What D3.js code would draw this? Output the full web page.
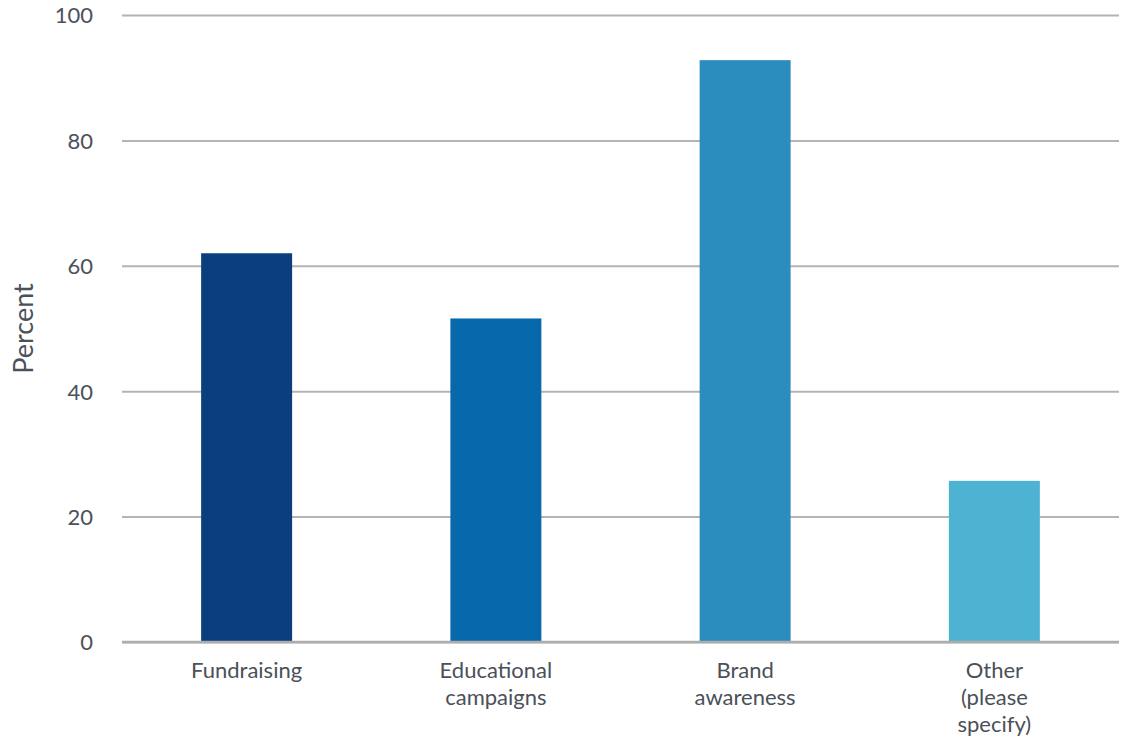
<!DOCTYPE html>
<html>
<head>
<meta charset="utf-8">
<script src="https://cdn.jsdelivr.net/npm/d3@7"></script>
<style>
  html, body { margin: 0; padding: 0; background: #fff; }
  svg { display: block; }
  text { font-family: "Lato", "Open Sans", sans-serif; fill: #4b5059; }
</style>
</head>
<body>
<svg id="chart" width="1126" height="738"></svg>
<script>
// Share of respondents by purpose (percent)
const categories = [
  ["Fundraising"],
  ["Educational", "campaigns"],
  ["Brand", "awareness"],
  ["Other", "(please", "specify)"]
];
const values = [62.0, 51.6, 92.8, 25.7];
const barColors = ["#0a3f7d", "#0868ac", "#2b8cbe", "#4eb3d3"];
const yTicks = [0, 20, 40, 60, 80, 100];
const yLabel = "Percent";

const svg = d3.select("#chart");
const margin = { top: 15, right: 7, bottom: 96, left: 122 };
const width = 1126 - margin.left - margin.right;
const height = 738 - margin.top - margin.bottom;

const g = svg.append("g").attr("transform", `translate(${margin.left},${margin.top})`);

const x = d3.scaleBand()
  .domain(d3.range(categories.length))
  .range([0, width])
  .paddingInner(0.635)
  .paddingOuter(0.3175);

const y = d3.scaleLinear().domain([0, 100]).range([height, 0]);

// Horizontal gridlines with tick labels
const yAxis = g.append("g")
  .call(d3.axisLeft(y).tickValues(yTicks).tickSize(-width).tickPadding(29))
  .call(a => a.select(".domain").remove());
yAxis.selectAll(".tick line")
  .attr("stroke", "#b4b4b4")
  .attr("stroke-width", 2);
yAxis.selectAll(".tick text")
  .attr("font-size", 22)
  .attr("dy", "0.36em");

// Bars
g.selectAll("rect.bar")
  .data(values)
  .join("rect")
  .attr("class", "bar")
  .attr("x", (d, i) => x(i))
  .attr("width", x.bandwidth())
  .attr("y", d => y(d))
  .attr("height", d => y(0) - y(d))
  .attr("fill", (d, i) => barColors[i]);

// Baseline
g.append("line")
  .attr("x1", 0).attr("x2", width)
  .attr("y1", y(0)).attr("y2", y(0))
  .attr("stroke", "#adadad")
  .attr("stroke-width", 2.5);

// Category labels (multi-line)
const xLabels = g.append("g").attr("transform", `translate(0,${height})`);
categories.forEach((lines, i) => {
  const t = xLabels.append("text")
    .attr("x", x(i) + x.bandwidth() / 2)
    .attr("y", 36)
    .attr("text-anchor", "middle")
    .attr("font-size", 22);
  lines.forEach((ln, k) => {
    t.append("tspan")
      .attr("x", x(i) + x.bandwidth() / 2)
      .attr("dy", k === 0 ? 0 : 27)
      .text(ln);
  });
});

// Y axis title
svg.append("text")
  .attr("transform", `translate(33,${margin.top + y(50)}) rotate(-90)`)
  .attr("text-anchor", "middle")
  .attr("font-size", 27)
  .text(yLabel);
</script>
</body>
</html>
